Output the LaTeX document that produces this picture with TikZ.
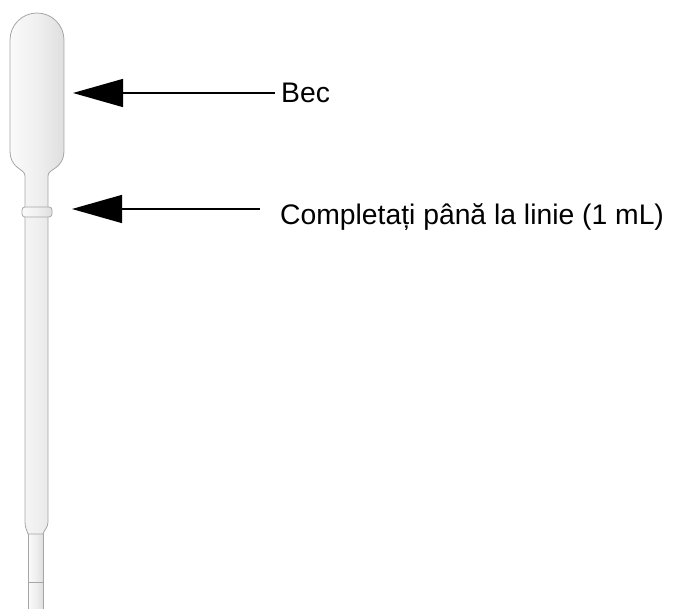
\documentclass[tikz,border=0pt]{standalone}
\usepackage{fontspec}
\setmainfont{Liberation Sans}
\usetikzlibrary{arrows.meta}

\pgfdeclarehorizontalshading{plastic}{100bp}{color(0bp)=(gray!45); color(22bp)=(gray!3); color(50bp)=(gray!12); color(80bp)=(gray!28); color(100bp)=(gray!50)}

\tikzset{
    part/.style={draw=gray!70, line width=0.8pt, shading=plastic},
    pointer/.style={-{Triangle[length=50pt,width=28pt]}, line width=1.4pt, black},
    callout/.style={font=\fontsize{28.3}{32}\selectfont, inner sep=0pt, anchor=base west}
}

\begin{document}
\begin{tikzpicture}[x=1pt, y=-1pt]
    \useasboundingbox (0,0) rectangle (681,609);

    \path[part] (28,520) rectangle (43,615);
    \draw[gray!70, line width=1pt] (28,583) -- (43,583);

    \path[part] (25,522) -- (25,176) .. controls (25,168) and (10,170) .. (10,150)
        -- (10,40) arc[start angle=180, end angle=360, radius=27]
        -- (64,150) .. controls (64,170) and (48,168) .. (48,176)
        -- (48,522) .. controls (48,528) and (44,530) .. (43,534)
        -- (28,534) .. controls (27,530) and (25,528) .. (25,522) -- cycle;

    \path[part, rounded corners=3pt] (22,207) rectangle (52,217);

    \node[callout] (bec) at (281,103) {Bec};
    \node[callout] (linie) at (280,225) {Completați până la linie (1 mL)};

    \coordinate (becend) at (275,93);
    \coordinate (becpt) at (73,93);
    \coordinate (linieend) at (260,209);
    \coordinate (liniept) at (72,209);

    \draw[pointer] (becend) -- (becpt);
    \draw[pointer] (linieend) -- (liniept);
\end{tikzpicture}
\end{document}
